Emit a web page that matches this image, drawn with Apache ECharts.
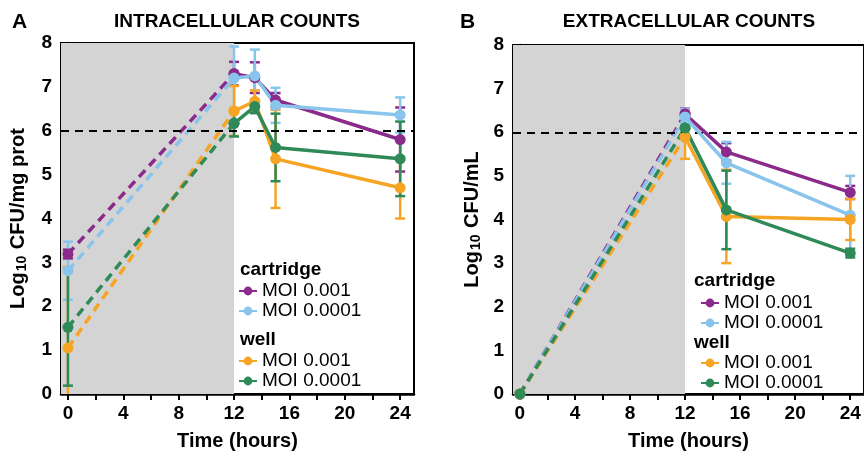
<!DOCTYPE html>
<html>
<head>
<meta charset="utf-8">
<script src="https://cdn.jsdelivr.net/npm/echarts@6/dist/echarts.min.js"></script>
<style>
  html, body { margin: 0; padding: 0; background: #fff; }
  #chart { width: 864px; height: 456px; }
</style>
</head>
<body>
<div id="chart"></div>
<script>
// panel A: intracellular (log10 CFU/mg prot)
const timesA = [0, 12, 13.5, 15, 24];
const aCart001 = [3.19, 7.30, 7.21, 6.70, 5.80];
const aCart001Sd = [0.1, 0.27, 0.35, 0.16, 0.73];
const aCart0001 = [2.81, 7.20, 7.25, 6.58, 6.36];
const aCart0001Sd = [0.66, 0.72, 0.6, 0.4, 0.4];
const aWell001 = [1.05, 6.45, 6.67, 5.36, 4.70];
const aWell001Sd = [1.85, 0.57, 0.25, 1.12, 0.7];
const aWell0001 = [1.52, 6.17, 6.55, 5.62, 5.36];
const aWell0001Sd = [1.33, 0.3, 0.15, 0.77, 0.85];

// panel B: extracellular (log10 CFU/mL)
const timesB = [0, 12, 15, 24];
const bCart001 = [0, 6.42, 5.55, 4.62];
const bCart001Sd = [0, 0.12, 0.2, 0.15];
const bCart0001 = [0, 6.35, 5.30, 4.10];
const bCart0001Sd = [0, 0.18, 0.48, 0.9];
const bWell001 = [0, 5.89, 4.07, 4.00];
const bWell001Sd = [0, 0.5, 1.07, 0.47];
const bWell0001 = [0, 6.10, 4.22, 3.23];
const bWell0001Sd = [0, 0.2, 0.9, 0.1];

const xLabels = [0, 4, 8, 12, 16, 20, 24];
const xTicks = [0, 2, 4, 6, 8, 10, 12, 14, 16, 18, 20, 22, 24];
const infectionEnd = 12;
const threshold = 6;

const colors = {
  'cartridge 0.001': '#8a2a8a',
  'cartridge 0.0001': '#88c4ec',
  'well 0.001': '#f6a423',
  'well 0.0001': '#2f8a57'
};

const FONT = 'Liberation Sans';

var chart = echarts.init(document.getElementById('chart'), null, { renderer: 'canvas' });

function pairs(times, vals, sds) {
  return times.map(function (t, i) { return [t, vals[i], sds[i]]; });
}

function errorRender(color) {
  return function (params, api) {
    var x = api.value(0), y = api.value(1), s = api.value(2);
    if (!s) return;
    var lo = Math.max(0, y - s);
    var top = api.coord([x, y + s]);
    var bot = api.coord([x, lo]);
    var w = 5;
    var st = { stroke: color, lineWidth: 2.5 };
    var kids = [
      { type: 'line', shape: { x1: top[0], y1: top[1], x2: bot[0], y2: bot[1] }, style: st },
      { type: 'line', shape: { x1: top[0] - w, y1: top[1], x2: top[0] + w, y2: top[1] }, style: st }
    ];
    if (lo > 0) {
      kids.push({ type: 'line', shape: { x1: bot[0] - w, y1: bot[1], x2: bot[0] + w, y2: bot[1] }, style: st });
    }
    return { type: 'group', children: kids };
  };
}

function groupSeries(axisIdx, name, times, vals, sds) {
  var color = colors[name];
  var all = pairs(times, vals, sds);
  var dashed = all.filter(function (d) { return d[0] <= infectionEnd; }).map(function (d) { return [d[0], d[1]]; });
  var solid = all.filter(function (d) { return d[0] >= infectionEnd; }).map(function (d) { return [d[0], d[1]]; });
  return [
    {
      type: 'custom', xAxisIndex: axisIdx, yAxisIndex: axisIdx,
      renderItem: errorRender(color), data: all, z: 3, silent: true
    },
    {
      name: name + ' dash', type: 'line', xAxisIndex: axisIdx, yAxisIndex: axisIdx,
      data: dashed, symbol: 'circle', symbolSize: 11, z: 4,
      itemStyle: { color: color }, lineStyle: { color: color, width: 3.5, type: [9, 6] }
    },
    {
      name: name, type: 'line', xAxisIndex: axisIdx, yAxisIndex: axisIdx,
      data: solid, symbol: 'circle', symbolSize: 11, z: 5,
      itemStyle: { color: color }, lineStyle: { color: color, width: 3.5 }
    }
  ];
}

function backdrop(axisIdx) {
  return {
    type: 'line', xAxisIndex: axisIdx, yAxisIndex: axisIdx, data: [], silent: true,
    markArea: {
      silent: true,
      itemStyle: { color: '#d4d4d4' },
      data: [[{ xAxis: -0.5, yAxis: 0 }, { xAxis: infectionEnd, yAxis: 8 }]]
    },
    markLine: {
      silent: true, symbol: 'none', label: { show: false },
      lineStyle: { color: '#000', width: 2.2, type: [8, 6] },
      data: [{ yAxis: threshold }]
    }
  };
}

function xAxisOpt(idx) {
  return {
    type: 'value', gridIndex: idx, min: -0.5, max: 25,
    name: 'Time (hours)', nameLocation: 'middle', nameGap: 37,
    nameTextStyle: { fontFamily: FONT, fontWeight: 'bold', fontSize: 20, color: '#000' },
    axisLine: { lineStyle: { color: '#000', width: 2.5 } },
    axisTick: { customValues: xTicks, length: 6, lineStyle: { color: '#000', width: 2 } },
    axisLabel: { customValues: xLabels, fontFamily: FONT, fontWeight: 'bold', fontSize: 19, color: '#000', margin: 10 },
    splitLine: { show: false }
  };
}

function yAxisOpt(idx, unit, gap) {
  return {
    type: 'value', gridIndex: idx, min: 0, max: 8, interval: 1,
    name: '{a|Log}{b|10}{a| ' + unit + '}', nameLocation: 'middle', nameGap: gap,
    nameTextStyle: {
      rich: {
        a: { fontFamily: FONT, fontWeight: 'bold', fontSize: 20, color: '#000' },
        b: { fontFamily: FONT, fontWeight: 'bold', fontSize: 14, color: '#000', padding: [8, 1, 0, 1] }
      }
    },
    axisLine: { show: true, lineStyle: { color: '#000', width: 2.5 } },
    axisTick: { length: 6, lineStyle: { color: '#000', width: 2 } },
    minorTick: { show: true, splitNumber: 2, length: 4, lineStyle: { color: '#000', width: 2 } },
    axisLabel: { fontFamily: FONT, fontWeight: 'bold', fontSize: 19, color: '#000', margin: 9 },
    splitLine: { show: false }
  };
}

function legendOpt(left, top, names) {
  return {
    orient: 'vertical', left: left, top: top, data: names, selectedMode: false,
    itemWidth: 18, itemHeight: 11, itemGap: 0, padding: 0,
    formatter: function (n) { return 'MOI ' + n.split(' ')[1]; },
    textStyle: { fontFamily: FONT, fontSize: 19, color: '#000', lineHeight: 20 }
  };
}

function label(x, y, text, size, align) {
  return {
    type: 'text', x: x, y: y, z: 10,
    style: { text: text, fontFamily: FONT, fontWeight: 'bold', fontSize: size, fill: '#000',
             textAlign: align || 'left', textVerticalAlign: 'middle' }
  };
}

var series = [backdrop(0), backdrop(1)]
  .concat(groupSeries(0, 'cartridge 0.001', timesA, aCart001, aCart001Sd))
  .concat(groupSeries(0, 'cartridge 0.0001', timesA, aCart0001, aCart0001Sd))
  .concat(groupSeries(0, 'well 0.001', timesA, aWell001, aWell001Sd))
  .concat(groupSeries(0, 'well 0.0001', timesA, aWell0001, aWell0001Sd))
  .concat(groupSeries(1, 'cartridge 0.001', timesB, bCart001, bCart001Sd))
  .concat(groupSeries(1, 'cartridge 0.0001', timesB, bCart0001, bCart0001Sd))
  .concat(groupSeries(1, 'well 0.001', timesB, bWell001, bWell001Sd))
  .concat(groupSeries(1, 'well 0.0001', timesB, bWell0001, bWell0001Sd));

var option = {
  animation: false,
  grid: [
    { left: 61, top: 43, right: 450, bottom: 61, show: true, borderColor: '#000', borderWidth: 2, backgroundColor: 'transparent' },
    { left: 513, top: 45, right: -2, bottom: 58, show: true, borderColor: '#000', borderWidth: 2, backgroundColor: 'transparent' }
  ],
  xAxis: [xAxisOpt(0), xAxisOpt(1)],
  yAxis: [yAxisOpt(0, 'CFU/mg prot', 32), yAxisOpt(1, 'CFU/mL', 30)],
  legend: [
    legendOpt(238, 281, ['cartridge 0.001', 'cartridge 0.0001']),
    legendOpt(238, 351, ['well 0.001', 'well 0.0001']),
    legendOpt(700, 293, ['cartridge 0.001', 'cartridge 0.0001']),
    legendOpt(700, 353, ['well 0.001', 'well 0.0001'])
  ],
  graphic: [
    label(12, 22, 'A', 21),
    label(237, 22, 'INTRACELLULAR COUNTS', 19, 'center'),
    label(460, 22, 'B', 21),
    label(689, 22, 'EXTRACELLULAR COUNTS', 19, 'center'),
    label(240, 270, 'cartridge', 19),
    label(240, 340, 'well', 19),
    label(694, 281, 'cartridge', 19),
    label(694, 343, 'well', 19)
  ],
  series: series
};

chart.setOption(option);
window.addEventListener('resize', function () { chart.resize(); });
</script>
</body>
</html>
